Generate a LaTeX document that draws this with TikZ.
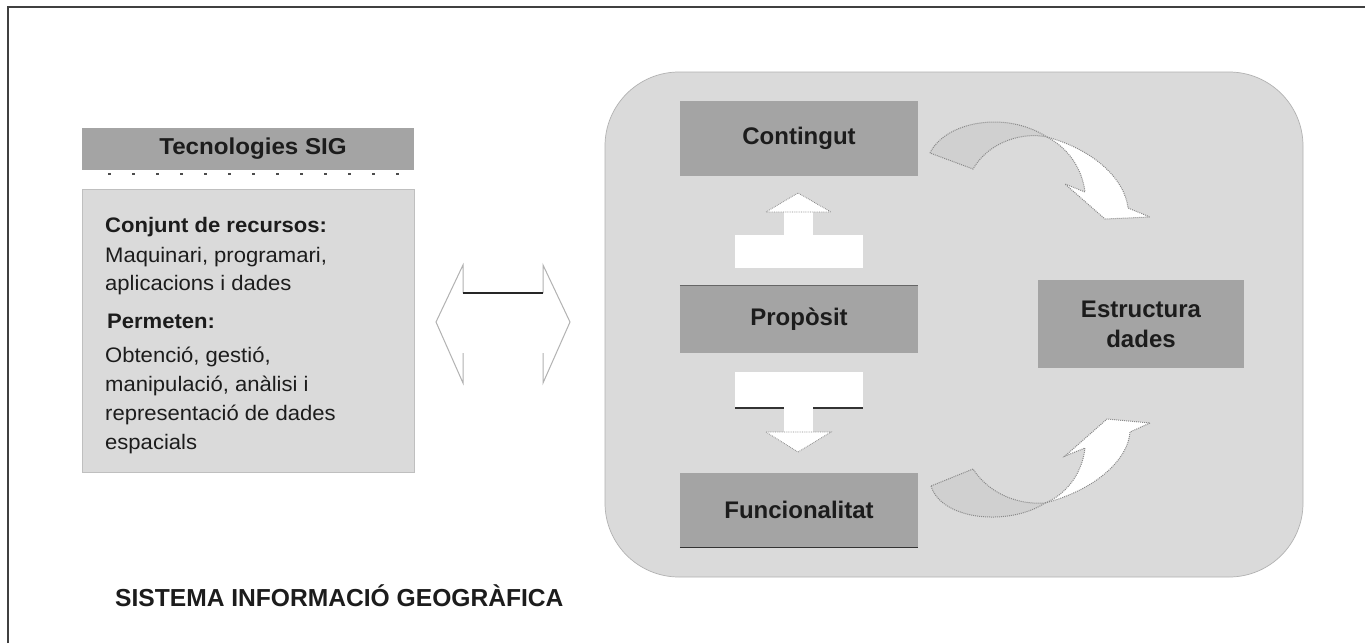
\documentclass[tikz,border=0pt]{standalone}
\usepackage{fontspec}
\setmainfont{Liberation Sans}
\newfontfamily\leftfont[FakeStretch=1.05]{Liberation Sans}
\definecolor{boxdark}{HTML}{A4A4A4}
\definecolor{panel}{HTML}{DADADA}
\definecolor{band}{HTML}{D0D0D0}
\definecolor{txt}{HTML}{1C1C1C}
\definecolor{edge}{HTML}{8A8A8A}
\begin{document}
\begin{tikzpicture}[x=1pt,y=-1pt,
  darkbox/.style={fill=boxdark, draw=none, inner sep=0pt, text=txt,
    font=\fontsize{24}{28}\selectfont\bfseries, align=center},
  bodytext/.style={anchor=base west, inner sep=0pt, text=txt,
    font=\leftfont\fontsize{21}{25}\selectfont},
  bodyhead/.style={bodytext, font=\leftfont\fontsize{21}{25}\selectfont\bfseries},
  darkline/.style={draw=black!80, line width=1.2pt},
  blockarrow/.style={fill=white, draw=edge, densely dotted, line width=0.8pt},
  bandshape/.style={fill=band, draw=edge, densely dotted, line width=1pt},
  headshape/.style={fill=white, draw=edge, densely dotted, line width=1pt},
  dblarrow/.style={draw=black!30, line width=1pt}]
\fill[white] (0,0) rectangle (1365,643);
\useasboundingbox (0,0) rectangle (1365,643);
% frame (top and left)
\draw[line width=1.6pt, black!75] (8,643) -- (8,7) -- (1365,7);

% left block
\node[fill=boxdark, inner sep=0pt, minimum width=332, minimum height=42,
  text=txt, font=\leftfont\fontsize{23}{27}\selectfont\bfseries] (sig) at (248,149) {\hspace*{10pt}Tecnologies SIG};
\draw[black!70, line width=1.6pt, dash pattern=on 3pt off 21pt] (108,174) -- (400,174);
\node[fill=panel, draw=black!25, line width=0.6pt, inner sep=0pt,
  minimum width=332, minimum height=283] (res) at (248,330.5) {};
\node[bodyhead] (l1) at (105,232) {Conjunt de recursos:};
\node[bodytext] (l2) at (105,262) {Maquinari, programari,};
\node[bodytext] (l3) at (105,290) {aplicacions i dades};
\node[bodyhead] (l4) at (107,328) {Permeten:};
\node[bodytext] (l5) at (105,362) {Obtenció, gestió,};
\node[bodytext] (l6) at (105,391) {manipulació, anàlisi i};
\node[bodytext] (l7) at (105,420) {representació de dades};
\node[bodytext] (l8) at (105,449) {espacials};

% double arrow
\coordinate (dl1) at (463,265);
\coordinate (dl2) at (463,293);
\coordinate (dr1) at (543,265);
\coordinate (dr2) at (543,293);
\coordinate (dlt) at (436,322);
\coordinate (drt) at (570,322);
\coordinate (dl3) at (463,353);
\coordinate (dl4) at (463,383);
\coordinate (dr3) at (543,353);
\coordinate (dr4) at (543,383);
\draw[dblarrow] (dl2) -- (dl1) -- (dlt) -- (dl4) -- (dl3);
\draw[dblarrow] (dr2) -- (dr1) -- (drt) -- (dr4) -- (dr3);
\draw[darkline, black!85, line width=1.4pt] (dl2) -- (dr2);

% right panel
\node[fill=panel, draw=black!30, line width=0.7pt, rounded corners=74, inner sep=0pt,
  minimum width=698, minimum height=505] (panel) at (954,324.5) {};

\node[darkbox, minimum width=238, minimum height=75] (cont) at (799,138) {Contingut};
\node[darkbox, minimum width=238, minimum height=67] (prop) at (799,319.5) {Propòsit};
\node[darkbox, minimum width=238, minimum height=74] (func) at (799,510) {Funcionalitat};
\node[darkbox, minimum width=206, minimum height=88] (estr) at (1141,324) {Estructura\\[2pt]dades};
\draw[darkline, black!60] (prop.north west) -- (prop.north east);
\draw[darkline] (func.south west) -- (func.south east);

% up block arrow
\fill[white] (735,235) rectangle (863,268);
\fill[white] (784,211) rectangle (813,236);
\filldraw[blockarrow] (766,212) -- (798,193) -- (831,212) -- cycle;
% down block arrow
\fill[white] (735,372) rectangle (863,408);
\fill[white] (784,407) rectangle (813,433);
\filldraw[blockarrow] (766,432) -- (798,452) -- (831,432) -- cycle;
\draw[darkline] (735,408) -- (784,408) (813,408) -- (863,408);

% curved arrow top
\filldraw[bandshape] (930,153) .. controls (945,122) and (1005,110) .. (1047,137)
  .. controls (1025,132) and (990,140) .. (973,169) -- cycle;
\filldraw[headshape] (1047,137) .. controls (1095,150) and (1125,180) .. (1128,208)
  -- (1150,217) -- (1105,219) -- (1065,184) -- (1085,192)
  .. controls (1082,168) and (1068,148) .. (1047,137) -- cycle;

% curved arrow bottom
\filldraw[bandshape] (931,486) .. controls (942,521) and (1010,526) .. (1045,503)
  .. controls (1020,505) and (990,495) .. (973,469) -- cycle;
\filldraw[headshape] (1045,503) .. controls (1095,490) and (1128,460) .. (1130,432)
  -- (1150,423) -- (1107,419) -- (1065,456) -- (1085,448)
  .. controls (1082,475) and (1065,495) .. (1045,503) -- cycle;

% caption
\node[anchor=base west, inner sep=0pt, text=txt, font=\fontsize{24.6}{28}\selectfont\bfseries]
  (title) at (115,606) {SISTEMA INFORMACIÓ GEOGRÀFICA};
\end{tikzpicture}
\end{document}
